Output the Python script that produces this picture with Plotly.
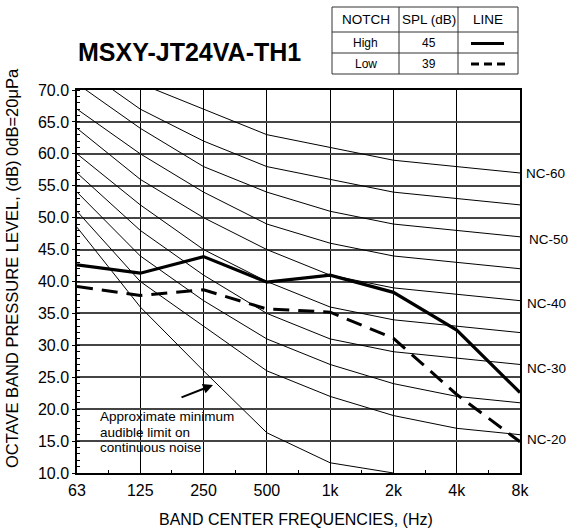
import plotly.graph_objects as go

# ---------------- data ----------------
freq_labels = ["63", "125", "250", "500", "1k", "2k", "4k", "8k"]

nc60 = [77, 71, 67, 63, 61, 59, 58, 57]
nc55 = [74, 67, 62, 58, 56, 54, 53, 52]
nc50 = [71, 64, 58, 54, 51, 49, 48, 47]
nc45 = [67, 60, 54, 49, 46, 44, 43, 42]
nc40 = [64, 56, 50, 45, 41, 39, 38, 37]
nc35 = [60, 52, 45, 40, 36, 34, 33, 32]
nc30 = [57, 48, 41, 35, 31, 29, 28, 27]
nc25 = [54, 44, 37, 31, 27, 24, 22, 21]
nc20 = [51, 40, 33, 26, 22, 19, 17, 16]
threshold = [48.5, 36, 26, 16.3, 11.6, 10.0]

spl_high = [42.6, 41.3, 43.9, 39.9, 41.0, 38.3, 32.4, 22.6]
spl_low = [39.2, 37.8, 38.7, 35.7, 35.2, 31.1, 22.3, 14.9]

nc_labels = ["NC-60", "NC-50", "NC-40", "NC-30", "NC-20"]

table_header = ["NOTCH", "SPL (dB)", "LINE"]
notch_rows = ["High", "Low"]
spl_rows = ["45", "39"]

title_text = "MSXY-JT24VA-TH1"
x_title = "BAND CENTER FREQUENCIES, (Hz)"
y_title = "OCTAVE BAND PRESSURE LEVEL, (dB) 0dB=20\u03bcPa"
note_lines = ["Approximate minimum", "audible limit on", "continuous noise"]

# ---------------- layout geometry ----------------
W, H = 584, 531
L, R, T, B = 77, 64, 90, 58
PW = W - L - R
PH = H - T - B
FONT = "Liberation Sans, Arial, sans-serif"


def fx(px):
    return (px - L) / PW


def fy(py):
    return (H - B - py) / PH


xs = list(range(len(freq_labels)))

fig = go.Figure()

nc_curves = [nc60, nc55, nc50, nc45, nc40, nc35, nc30, nc25, nc20, threshold]
for curve in nc_curves:
    fig.add_trace(go.Scatter(
        x=xs[:len(curve)], y=curve, mode="lines",
        line=dict(color="black", width=1), hoverinfo="skip", showlegend=False))

fig.add_trace(go.Scatter(
    x=xs, y=spl_high, mode="lines", name="High",
    line=dict(color="black", width=3.2), showlegend=False))
fig.add_trace(go.Scatter(
    x=xs, y=spl_low, mode="lines", name="Low",
    line=dict(color="black", width=3, dash="16px,9px"), showlegend=False))

shapes = []
# white box behind the note
shapes.append(dict(type="rect", xref="paper", yref="paper",
                   x0=fx(97), x1=fx(238), y0=fy(453), y1=fy(411.5),
                   fillcolor="white", line=dict(width=0), layer="between"))

# table
tcol = "#333333"
tx0, tx1, ty0, ty1 = 332, 518, 7, 74
shapes.append(dict(type="rect", xref="paper", yref="paper",
                   x0=fx(tx0), x1=fx(tx1), y0=fy(ty1), y1=fy(ty0),
                   line=dict(color=tcol, width=1)))
for cx in (399, 458):
    shapes.append(dict(type="line", xref="paper", yref="paper",
                       x0=fx(cx), x1=fx(cx), y0=fy(ty1), y1=fy(ty0),
                       line=dict(color=tcol, width=1)))
for ry in (32, 53):
    shapes.append(dict(type="line", xref="paper", yref="paper",
                       x0=fx(tx0), x1=fx(tx1), y0=fy(ry), y1=fy(ry),
                       line=dict(color=tcol, width=1)))
shapes.append(dict(type="line", xref="paper", yref="paper",
                   x0=fx(471), x1=fx(504), y0=fy(43.5), y1=fy(43.5),
                   line=dict(color="black", width=3)))
shapes.append(dict(type="line", xref="paper", yref="paper",
                   x0=fx(471), x1=fx(505), y0=fy(64), y1=fy(64),
                   line=dict(color="black", width=3, dash="8px,5px")))

annotations = []
annotations.append(dict(text="<b>" + title_text + "</b>", xref="paper", yref="paper",
                        x=fx(189.6), y=fy(52), xanchor="center", yanchor="middle",
                        showarrow=False, font=dict(size=25, color="black", family=FONT)))

col_centers = [365.5, 428.5, 488]
for txt, cx in zip(table_header, col_centers):
    annotations.append(dict(text=txt, xref="paper", yref="paper",
                            x=fx(cx), y=fy(19.5), xanchor="center", yanchor="middle",
                            showarrow=False, font=dict(size=13.5, color="black", family=FONT)))
for i, (n, s) in enumerate(zip(notch_rows, spl_rows)):
    cy = 42.5 + 21 * i
    annotations.append(dict(text=n, xref="paper", yref="paper",
                            x=fx(col_centers[0]), y=fy(cy), xanchor="center", yanchor="middle",
                            showarrow=False, font=dict(size=12, color="black", family=FONT)))
    annotations.append(dict(text=s, xref="paper", yref="paper",
                            x=fx(col_centers[1]), y=fy(cy), xanchor="center", yanchor="middle",
                            showarrow=False, font=dict(size=12, color="black", family=FONT)))

nc_label_pos = [(524, 173), (527, 240), (525, 303), (525, 368), (525, 439)]
for txt, (px, py) in zip(nc_labels, nc_label_pos):
    annotations.append(dict(text=txt, xref="paper", yref="paper",
                            x=fx(px), y=fy(py), xanchor="left", yanchor="middle",
                            showarrow=False, font=dict(size=13.5, color="black", family=FONT)))

# note: base font 12px gives ~15.6px line spacing, glyphs drawn at 13.5px
note_html = "<br>".join('<span style="font-size:13.5px">' + s + "</span>" for s in note_lines)
annotations.append(dict(text=note_html, xref="paper", yref="paper",
                        x=fx(98), y=fy(431.5), xanchor="left", yanchor="middle",
                        align="left", showarrow=False,
                        font=dict(size=12, color="black", family=FONT)))

# arrow
annotations.append(dict(text="", xref="paper", yref="paper",
                        x=fx(213), y=fy(385), ax=-33, ay=13,
                        showarrow=True, arrowhead=2, arrowsize=1, arrowwidth=2,
                        arrowcolor="black"))

annotations.append(dict(text=x_title, xref="paper", yref="paper",
                        x=fx(295.5), y=fy(519.5), xanchor="center", yanchor="middle",
                        showarrow=False, font=dict(size=16, color="black", family=FONT)))
annotations.append(dict(text=y_title, xref="paper", yref="paper",
                        x=fx(12), y=fy(268), xanchor="center", yanchor="middle",
                        textangle=-90, showarrow=False,
                        font=dict(size=16.5, color="black", family=FONT)))

fig.update_layout(
    width=W, height=H,
    margin=dict(l=L, r=R, t=T, b=B, pad=0),
    paper_bgcolor="white", plot_bgcolor="white",
    font=dict(family=FONT, color="black"),
    shapes=shapes, annotations=annotations,
    showlegend=False,
)

fig.update_xaxes(
    range=[0, 7], tickmode="array", tickvals=xs, ticktext=freq_labels,
    showgrid=True, gridcolor="black", gridwidth=1,
    showline=True, linecolor="black", linewidth=1.5, mirror=True,
    ticks="", ticklabelstandoff=2, tickfont=dict(size=16, color="black"),
    zeroline=False, fixedrange=True,
    minor=dict(tickvals=[i + 0.5 for i in range(7)], ticks="inside",
               ticklen=3, tickcolor="black", showgrid=False),
)
fig.update_yaxes(
    range=[10, 70], tickmode="linear", tick0=10, dtick=5, tickformat=".1f",
    showgrid=True, gridcolor="#444444", gridwidth=1.5,
    showline=True, linecolor="black", linewidth=1.5, mirror=True,
    ticks="outside", ticklen=3, tickcolor="black",
    tickfont=dict(size=16, color="black"),
    zeroline=False, fixedrange=True,
    minor=dict(dtick=1, ticks="inside", ticklen=3, tickcolor="black", showgrid=False),
)

fig.write_html("out.html")
